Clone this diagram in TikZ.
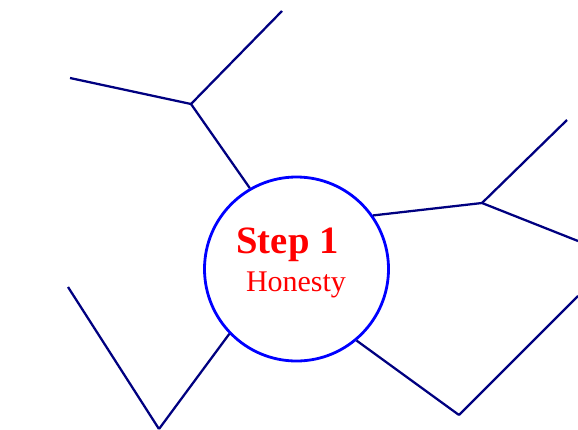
\documentclass[tikz,border=0pt]{standalone}
\usepackage{fontspec}
\setmainfont{Liberation Serif}
\usepackage{xcolor}
\usetikzlibrary{positioning, calc}
\definecolor{linknavy}{RGB}{0,0,128}
\definecolor{hubblue}{RGB}{0,0,255}

\begin{document}
\begin{tikzpicture}[
    x=0.75pt, y=-0.75pt,
    hub/.style={circle, draw=hubblue, line width=2.1pt, minimum size=138pt, inner sep=0pt, fill=white},
    title/.style={text=red, font=\bfseries\fontsize{29}{30}\selectfont, anchor=base, inner sep=0pt},
    subtitle/.style={text=red, font=\fontsize{22.5}{24}\selectfont, anchor=base, inner sep=0pt},
    link/.style={draw=linknavy, line width=1.7pt}
]
    \useasboundingbox (0,0) rectangle (578,429);

    \node[hub] (center) at (296.5,269) {};
    \node[title] (step) at (287.5,253) {Step 1};
    \node[subtitle] (topic) at (296,291) {Honesty};

    % junctions
    \coordinate (ja) at (191,104);
    \coordinate (jb) at (482,203);
    \coordinate (jc) at (459,415);
    \coordinate (jd) at (159,429);

    % loose ends
    \coordinate (ea1) at (70,78);
    \coordinate (ea2) at (282,11);
    \coordinate (eb1) at (567,120);
    \coordinate (eb2) at (578,241);
    \coordinate (ec1) at (578,296);
    \coordinate (ed1) at (68,287);

    \draw[link] (center.120.6) -- (ja);
    \draw[link] (ja) -- (ea1);
    \draw[link] (ja) -- (ea2);

    \draw[link] (center.35.7) -- (jb);
    \draw[link] (jb) -- (eb1);
    \draw[link] (jb) -- (eb2);

    \draw[link] (center.-50.7) -- (jc);
    \draw[link] (jc) -- (ec1);

    \draw[link] (center.-136.9) -- (jd);
    \draw[link] (jd) -- (ed1);
\end{tikzpicture}
\end{document}
